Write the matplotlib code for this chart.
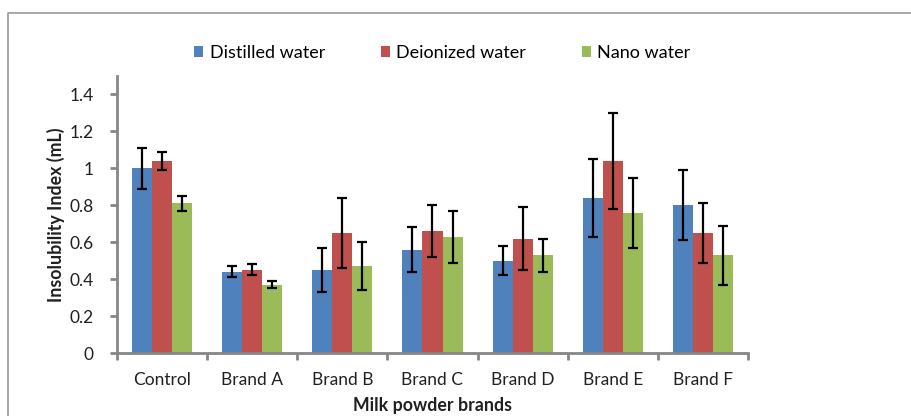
import matplotlib
matplotlib.use("Agg")
import matplotlib.pyplot as plt
import numpy as np
from matplotlib.lines import Line2D

categories = ["Control", "Brand A", "Brand B", "Brand C", "Brand D", "Brand E", "Brand F"]
series_names = ["Distilled water", "Deionized water", "Nano water"]
distilled = [1.00, 0.44, 0.45, 0.56, 0.50, 0.84, 0.80]
distilled_err = [0.11, 0.03, 0.12, 0.12, 0.08, 0.21, 0.19]
deionized = [1.04, 0.45, 0.65, 0.66, 0.62, 1.04, 0.65]
deionized_err = [0.05, 0.03, 0.19, 0.14, 0.17, 0.26, 0.16]
nano = [0.81, 0.37, 0.47, 0.63, 0.53, 0.76, 0.53]
nano_err = [0.04, 0.02, 0.13, 0.14, 0.09, 0.19, 0.16]
colors = ["#4F81BD", "#C0504D", "#9BBB59"]
yticks = [0, 0.2, 0.4, 0.6, 0.8, 1, 1.2, 1.4]
ytick_labels = ["0", "0.2", "0.4", "0.6", "0.8", "1", "1.2", "1.4"]

plt.rcParams['font.family'] = ['Lato', 'DejaVu Sans']

fig = plt.figure(figsize=(9.12, 4.16), dpi=100)
ax = fig.add_axes([117/912, 1-353/416, (748-117)/912, (353-76)/416])

x = np.arange(len(categories))
w = 0.222
vals = [distilled, deionized, nano]
errs = [distilled_err, deionized_err, nano_err]
for i, (v, e, c, n) in enumerate(zip(vals, errs, colors, series_names)):
    ax.bar(x + (i-1)*w, v, width=w, color=c, label=n, zorder=2,
           yerr=e, capsize=3.5, error_kw=dict(ecolor='black', elinewidth=1.6, capthick=1.6))

ax.set_xlim(-0.5, len(categories)-0.5)
ax.set_ylim(0, 1.5)
ax.set_yticks(yticks)
ax.set_yticklabels(ytick_labels)
ax.set_xticks(x)
ax.set_xticklabels(categories)
ax.set_xticks(np.arange(-0.5, len(categories)), minor=True)
ax.tick_params(axis='x', which='major', length=0, pad=14, labelsize=12.5, colors='#202020')
ax.tick_params(axis='x', which='minor', length=5, width=2, color='#868686', direction='out')
ax.tick_params(axis='y', length=5, width=2, color='#868686', direction='out', pad=12,
               labelsize=12.5, labelcolor='#202020')
for s in ['top', 'right']:
    ax.spines[s].set_visible(False)
for s in ['left', 'bottom']:
    ax.spines[s].set_color('#868686')
    ax.spines[s].set_linewidth(2)

ax.set_ylabel("Insolubility Index (mL)", fontsize=12.8, fontweight='bold', labelpad=3, color='#202020')
ax.set_xlabel("Milk powder brands", fontsize=12.8, fontweight='bold', labelpad=6, color='#202020')

ax.legend(loc='center', bbox_to_anchor=(442.5/912, 1-53/416), bbox_transform=fig.transFigure,
          ncol=3, frameon=False, fontsize=13, handlelength=0.5, handleheight=0.5,
          handletextpad=0.35, columnspacing=3.1, borderaxespad=0, borderpad=0)

# outer frame (left and top visible)
fig.add_artist(Line2D([8/912, 8/912, 1.0], [0.0, 1-13/416, 1-13/416], transform=fig.transFigure,
                      color='#9a9a9a', lw=1.2))

fig.savefig("out.png", dpi=100)
